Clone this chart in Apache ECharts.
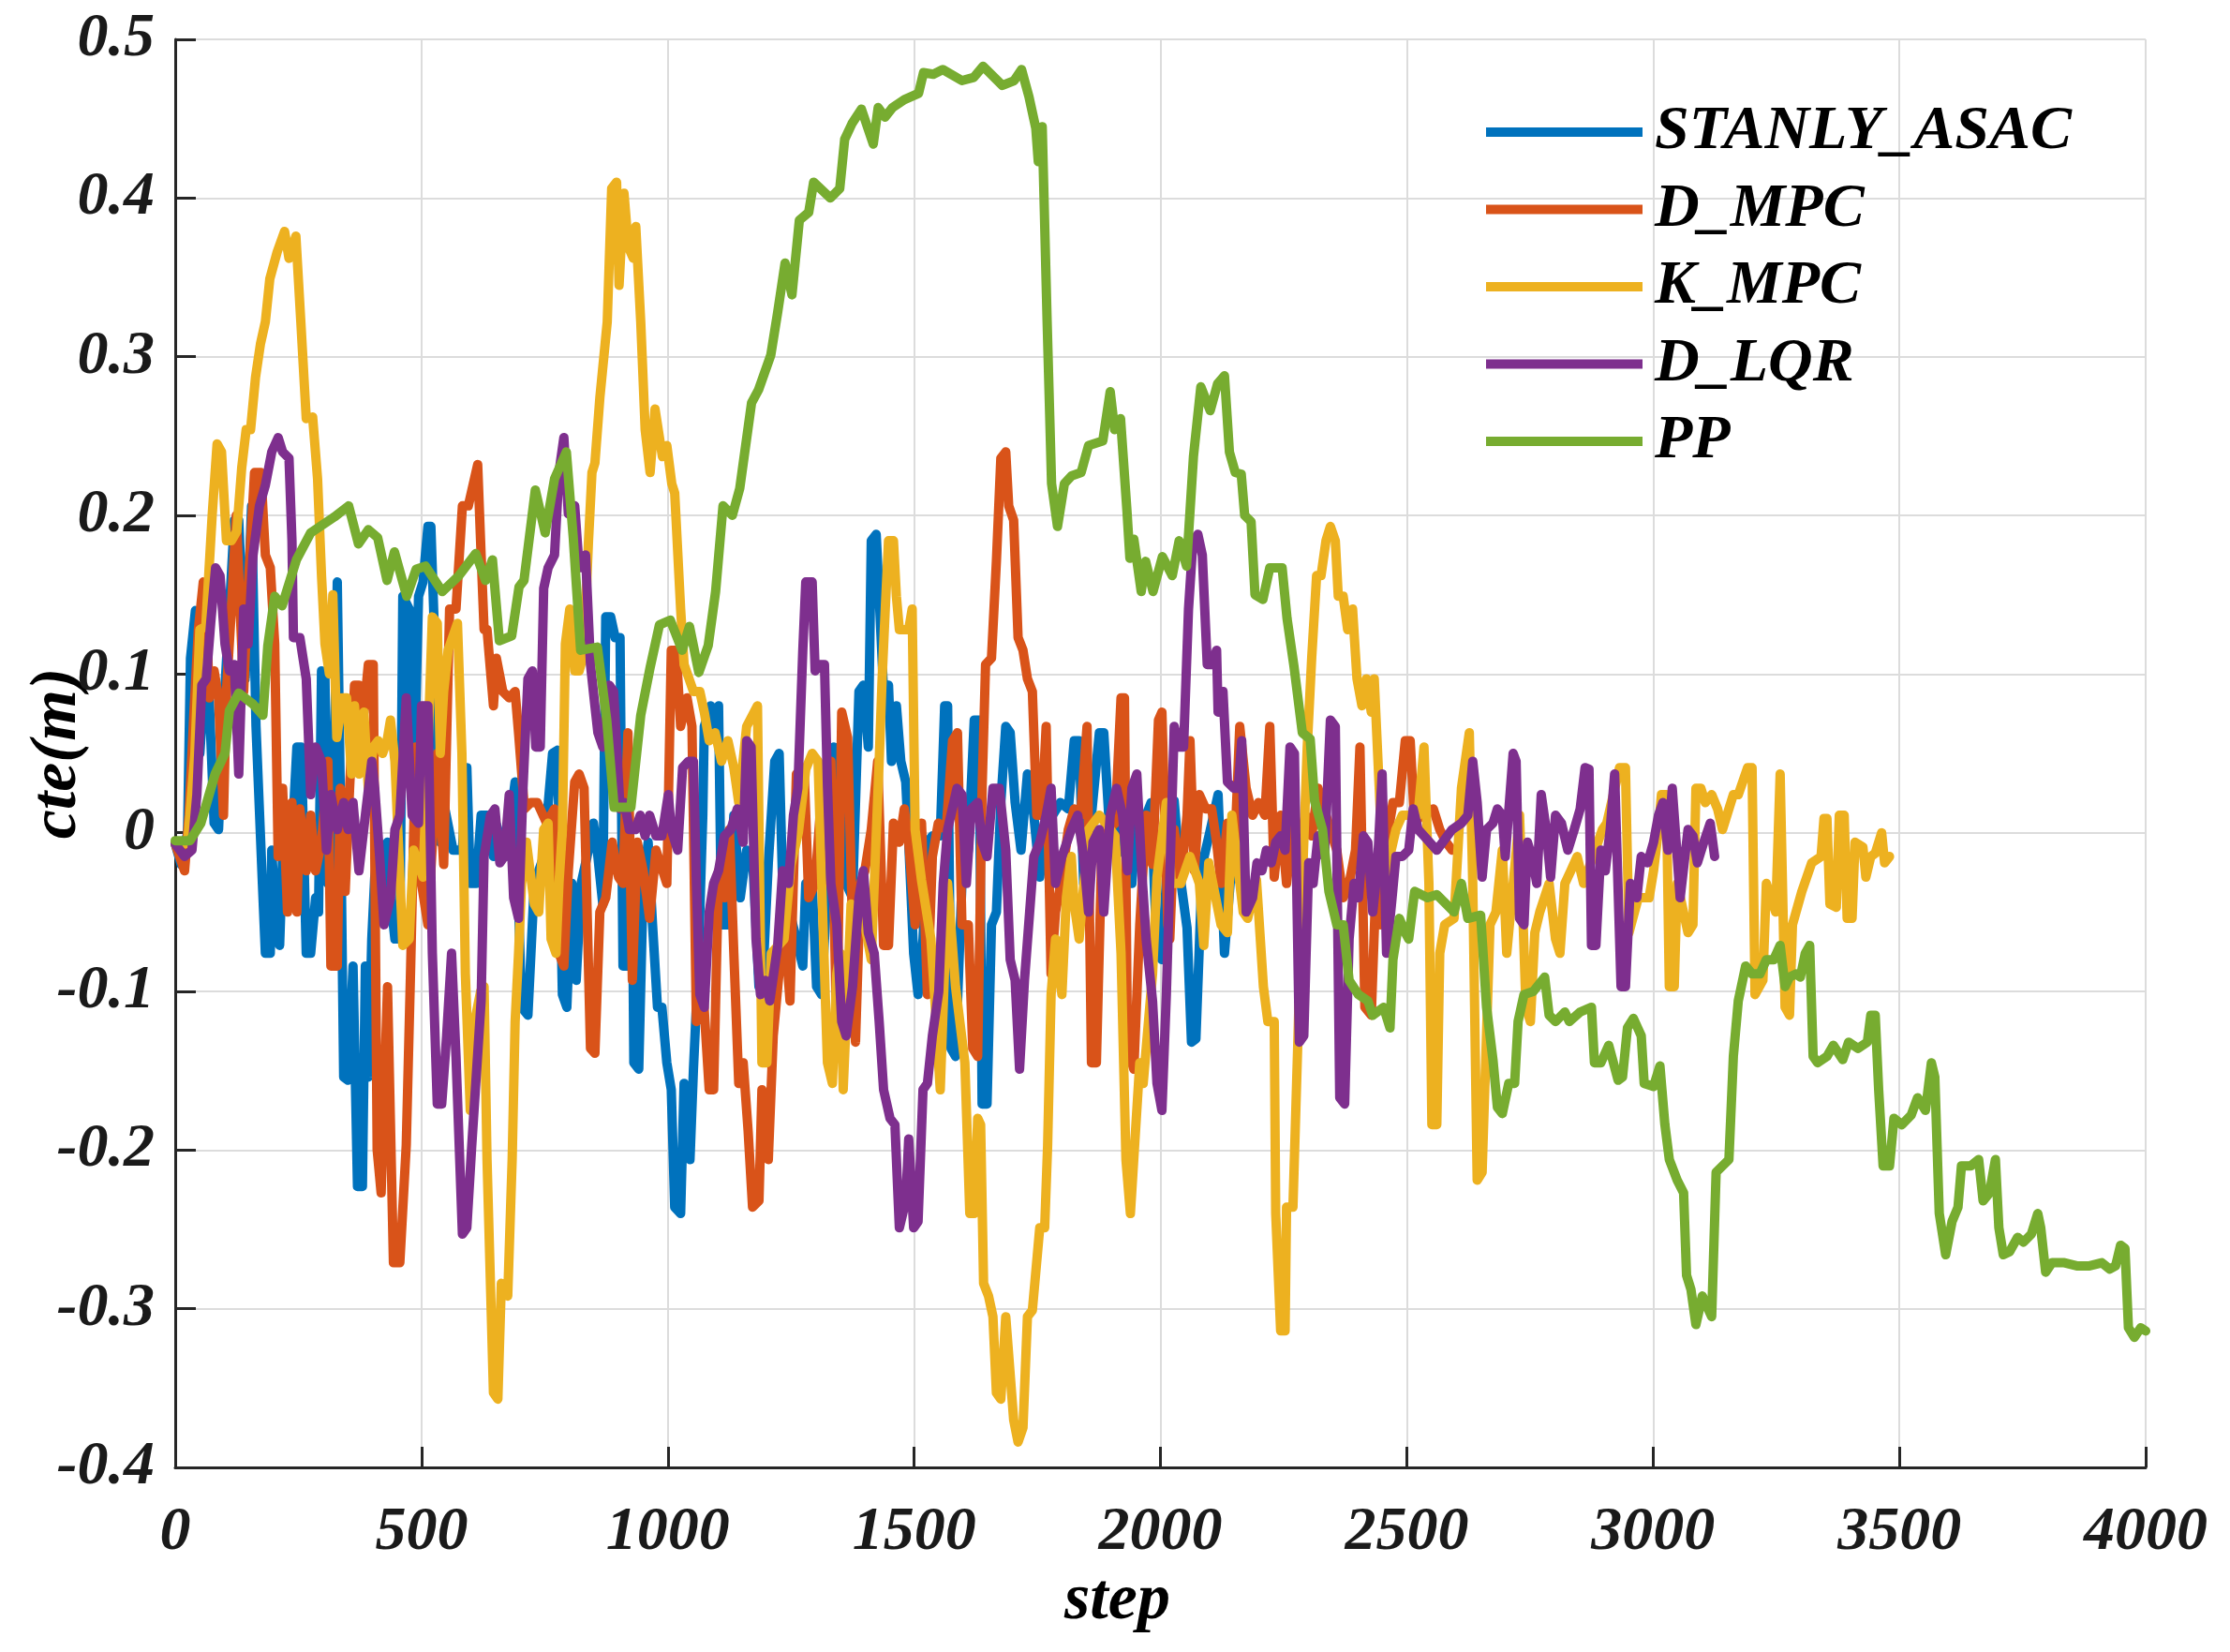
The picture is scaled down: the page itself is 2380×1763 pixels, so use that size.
<!DOCTYPE html>
<html>
<head>
<meta charset="utf-8">
<script src="https://cdn.jsdelivr.net/npm/echarts@6/dist/echarts.min.js"></script>
<style>
html,body{margin:0;padding:0;background:#fff;}
#chart{width:2380px;height:1763px;}
</style>
</head>
<body>
<div id="chart"></div>
<script>
const seriesNames = ['STANLY_ASAC','D_MPC','K_MPC','D_LQR','PP'];
const seriesColors = ['#0072BD','#D95319','#EDB120','#7E2F8E','#77AC30'];
const xTicks = [0,500,1000,1500,2000,2500,3000,3500,4000];
const yTicks = [-0.4,-0.3,-0.2,-0.1,0,0.1,0.2,0.3,0.4,0.5];

const stanlyAsac = [[0,-0.007],[12,-0.02],[25,0.0],[31,0.11],[41,0.14],[50,0.05],[60,0.097],[69,0.085],[79,0.006],[88,0.002],[98,0.076],[110,0.14],[120,0.197],[129,0.197],[142,0.097],[155,0.206],[164,0.067],[177,-0.032],[183,-0.076],[193,-0.076],[196,-0.011],[206,-0.067],[212,-0.071],[218,-0.015],[228,-0.024],[237,-0.006],[247,0.054],[256,0.054],[266,-0.076],[275,-0.076],[285,-0.041],[291,-0.05],[297,0.102],[304,0.097],[310,-0.032],[320,-0.011],[329,0.158],[335,0.028],[342,-0.154],[351,-0.156],[361,-0.084],[370,-0.223],[380,-0.223],[386,-0.084],[392,-0.154],[399,-0.067],[405,-0.028],[412,-0.011],[424,-0.041],[431,-0.006],[437,-0.041],[446,-0.067],[456,-0.067],[462,0.149],[475,0.141],[484,0.024],[494,0.149],[503,0.158],[513,0.193],[519,0.193],[526,0.128],[538,-0.006],[545,0.019],[564,-0.011],[583,-0.011],[592,0.041],[599,-0.032],[611,-0.032],[621,0.011],[633,0.011],[646,-0.015],[652,0.005],[671,-0.015],[690,0.032],[703,-0.11],[716,-0.115],[729,-0.032],[748,-0.015],[766,0.05],[776,0.052],[786,-0.102],[795,-0.11],[805,-0.032],[814,-0.093],[824,-0.032],[836,-0.015],[849,0.006],[858,-0.015],[868,-0.045],[874,0.136],[884,0.136],[893,0.123],[903,0.123],[909,-0.084],[919,-0.084],[928,-0.028],[931,-0.145],[941,-0.149],[950,-0.032],[960,-0.006],[969,-0.058],[979,-0.11],[988,-0.11],[998,-0.145],[1007,-0.162],[1014,-0.236],[1026,-0.24],[1033,-0.158],[1045,-0.206],[1052,-0.149],[1061,-0.089],[1071,0.011],[1074,0.067],[1087,0.08],[1096,0.067],[1103,0.08],[1109,-0.058],[1122,-0.058],[1134,0.011],[1147,-0.041],[1160,-0.011],[1172,-0.015],[1185,-0.097],[1194,-0.084],[1204,-0.019],[1217,0.045],[1226,0.05],[1233,-0.032],[1261,-0.067],[1274,-0.084],[1280,-0.032],[1293,-0.032],[1302,-0.097],[1312,-0.102],[1324,-0.032],[1337,0.054],[1350,0.045],[1362,-0.032],[1375,-0.041],[1388,0.089],[1397,0.093],[1407,0.054],[1413,0.184],[1423,0.188],[1429,0.149],[1438,0.089],[1448,0.093],[1454,0.045],[1464,0.08],[1473,0.045],[1483,0.032],[1489,-0.006],[1499,-0.076],[1508,-0.102],[1518,-0.067],[1527,-0.006],[1537,-0.002],[1553,-0.002],[1562,0.08],[1568,0.08],[1575,-0.136],[1584,-0.141],[1597,-0.032],[1610,-0.011],[1622,0.071],[1632,0.071],[1638,-0.171],[1648,-0.171],[1657,-0.058],[1667,-0.05],[1676,0.019],[1686,0.067],[1695,0.063],[1705,0.019],[1717,-0.011],[1730,0.037],[1743,0.011],[1755,-0.028],[1768,0.011],[1781,0.011],[1797,0.019],[1813,0.015],[1825,0.058],[1835,0.058],[1844,-0.032],[1860,0.011],[1876,0.063],[1885,0.063],[1895,0.011],[1908,0.011],[1920,-0.011],[1933,-0.015],[1942,-0.032],[1952,0.011],[1971,0.011],[1981,0.019],[1993,-0.076],[2003,-0.08],[2012,-0.03],[2028,0.02],[2041,-0.03],[2054,-0.06],[2063,-0.132],[2072,-0.13],[2085,-0.02],[2100,0.0],[2117,0.024],[2130,-0.076],[2142,-0.03],[2155,-0.028]];

const dMpc = [[0,-0.007],[19,-0.024],[28,0.011],[38,0.076],[47,0.128],[57,0.158],[63,0.141],[69,0.085],[79,0.102],[88,0.085],[98,0.011],[104,0.089],[114,0.141],[124,0.2],[133,0.132],[139,0.089],[148,0.154],[161,0.227],[174,0.227],[183,0.175],[193,0.167],[202,0.119],[209,-0.015],[218,0.028],[228,-0.05],[237,0.019],[247,-0.05],[253,0.015],[266,-0.024],[275,0.011],[285,-0.024],[297,-0.006],[310,0.045],[316,-0.084],[329,-0.084],[335,0.028],[345,-0.037],[354,0.028],[364,0.093],[373,0.093],[383,0.076],[392,0.106],[402,0.106],[410,-0.2],[418,-0.227],[431,-0.097],[443,-0.271],[456,-0.271],[469,-0.197],[478,-0.084],[488,0.054],[500,-0.032],[513,-0.058],[532,0.05],[545,-0.02],[557,0.141],[570,0.141],[583,0.206],[595,0.206],[614,0.232],[621,0.175],[627,0.128],[633,0.128],[646,0.08],[652,0.11],[665,0.089],[678,0.085],[690,0.089],[697,0.063],[709,0.015],[722,0.019],[735,0.019],[754,0.006],[770,0.015],[779,-0.076],[789,-0.084],[798,-0.024],[811,0.032],[820,0.037],[830,0.028],[843,-0.136],[852,-0.139],[862,-0.05],[874,-0.041],[887,-0.006],[900,-0.028],[909,-0.032],[919,0.063],[928,-0.093],[938,-0.006],[950,-0.024],[963,-0.054],[976,-0.011],[998,-0.032],[1007,0.115],[1017,0.115],[1026,0.067],[1039,0.085],[1049,0.067],[1058,-0.119],[1071,-0.097],[1084,-0.162],[1093,-0.162],[1103,-0.024],[1115,-0.041],[1125,0.002],[1134,-0.076],[1144,-0.158],[1153,-0.145],[1163,-0.188],[1172,-0.236],[1185,-0.232],[1191,-0.162],[1204,-0.206],[1214,-0.128],[1236,-0.054],[1248,-0.106],[1261,0.037],[1277,0.037],[1286,-0.041],[1299,-0.032],[1312,0.024],[1324,0.028],[1331,0.045],[1343,-0.128],[1353,0.076],[1365,0.06],[1381,-0.132],[1391,-0.032],[1400,-0.024],[1413,0.002],[1426,0.045],[1438,-0.071],[1448,-0.071],[1458,0.006],[1470,-0.006],[1480,0.015],[1489,-0.006],[1502,-0.058],[1515,0.006],[1527,-0.102],[1537,-0.015],[1549,0.006],[1565,0.002],[1578,0.058],[1588,0.063],[1597,-0.058],[1610,-0.058],[1619,-0.136],[1629,-0.141],[1638,0.028],[1645,0.106],[1657,0.11],[1667,0.171],[1676,0.236],[1686,0.24],[1692,0.206],[1702,0.197],[1711,0.123],[1721,0.115],[1730,0.097],[1740,0.089],[1749,0.011],[1759,0.011],[1768,0.067],[1778,-0.089],[1787,-0.05],[1800,-0.028],[1813,0.002],[1825,0.015],[1838,0.011],[1851,0.067],[1860,-0.145],[1870,-0.145],[1882,0.002],[1895,0.002],[1908,0.006],[1920,0.085],[1927,0.085],[1933,-0.136],[1946,-0.149],[1958,-0.058],[1971,0.011],[1984,-0.02],[1996,0.071],[2003,0.076],[2015,-0.058],[2019,-0.067],[2028,0.002],[2041,-0.032],[2054,0.011],[2060,0.058],[2069,-0.024],[2079,0.024],[2092,0.015],[2104,0.015],[2114,-0.006],[2123,-0.032],[2136,0.006],[2149,-0.024],[2161,0.067],[2174,0.028],[2187,0.011],[2199,0.019],[2212,0.011],[2222,0.067],[2231,-0.028],[2244,0.011],[2256,-0.032],[2269,0.006],[2282,-0.006],[2295,0.011],[2307,-0.002],[2320,0.028],[2332,0.015],[2345,0.002],[2358,-0.011],[2371,-0.041],[2383,-0.032],[2396,-0.011],[2405,0.054],[2415,-0.11],[2428,-0.115],[2437,-0.037],[2447,-0.058],[2459,-0.006],[2472,0.019],[2485,0.019],[2497,0.058],[2507,0.058],[2516,0.006],[2529,0.011],[2554,0.015],[2567,0.002],[2580,-0.006],[2592,-0.011]];

const kMpc = [[0,-0.007],[25,-0.007],[40,0.05],[50,0.128],[62,0.13],[75,0.2],[85,0.245],[94,0.24],[104,0.184],[114,0.184],[125,0.19],[135,0.23],[144,0.254],[153,0.254],[163,0.287],[173,0.308],[183,0.322],[192,0.349],[207,0.366],[222,0.379],[231,0.362],[245,0.376],[255,0.322],[266,0.261],[279,0.262],[289,0.223],[297,0.162],[304,0.119],[313,0.1],[320,0.15],[328,0.06],[339,0.085],[348,0.085],[358,0.037],[364,0.08],[373,0.037],[383,0.076],[392,0.028],[402,0.054],[412,0.058],[421,0.05],[430,0.058],[437,0.071],[446,0.045],[453,-0.006],[462,-0.071],[475,-0.067],[484,-0.011],[503,-0.028],[513,0.054],[522,0.136],[532,0.132],[538,0.05],[545,0.089],[554,0.115],[573,0.132],[582,0.05],[589,-0.089],[599,-0.175],[608,-0.119],[620,-0.1],[627,-0.097],[633,-0.206],[646,-0.353],[655,-0.357],[662,-0.284],[675,-0.292],[684,-0.206],[690,-0.119],[697,-0.076],[703,-0.032],[713,-0.006],[729,-0.045],[738,-0.05],[748,0.002],[757,0.006],[763,-0.067],[773,-0.076],[779,-0.032],[786,0.002],[792,0.119],[801,0.141],[811,0.102],[820,0.102],[827,0.11],[833,0.141],[839,0.184],[846,0.227],[852,0.233],[862,0.274],[877,0.322],[886,0.406],[896,0.41],[901,0.345],[911,0.403],[920,0.369],[930,0.362],[935,0.382],[945,0.322],[954,0.254],[964,0.227],[974,0.267],[989,0.237],[998,0.244],[1008,0.22],[1014,0.214],[1026,0.141],[1033,0.106],[1052,0.089],[1065,0.089],[1074,0.076],[1084,0.058],[1096,0.063],[1109,0.045],[1122,0.058],[1134,0.041],[1144,0.019],[1160,0.067],[1182,0.08],[1191,-0.145],[1201,-0.145],[1210,-0.076],[1236,-0.067],[1250,-0.02],[1265,0.0],[1280,0.04],[1293,0.05],[1305,0.045],[1315,-0.058],[1324,-0.145],[1334,-0.158],[1343,-0.089],[1350,-0.076],[1356,-0.162],[1372,-0.045],[1385,-0.05],[1400,-0.058],[1413,-0.08],[1429,0.045],[1435,0.097],[1442,0.145],[1448,0.184],[1458,0.184],[1464,0.149],[1470,0.128],[1489,0.128],[1496,0.141],[1502,0.002],[1515,-0.03],[1534,-0.067],[1543,-0.11],[1553,-0.162],[1568,-0.032],[1584,-0.097],[1603,-0.145],[1613,-0.24],[1622,-0.24],[1629,-0.18],[1635,-0.184],[1641,-0.284],[1651,-0.292],[1660,-0.305],[1667,-0.353],[1676,-0.357],[1686,-0.305],[1702,-0.37],[1711,-0.384],[1721,-0.375],[1730,-0.305],[1740,-0.301],[1755,-0.249],[1765,-0.249],[1771,-0.197],[1778,-0.102],[1787,-0.067],[1800,-0.102],[1809,-0.041],[1819,-0.015],[1825,-0.045],[1835,-0.067],[1854,0.002],[1876,0.011],[1908,-0.002],[1920,-0.076],[1930,-0.206],[1939,-0.24],[1958,-0.145],[1965,-0.158],[1984,-0.089],[1993,-0.028],[2012,0.019],[2022,-0.032],[2041,-0.032],[2060,-0.015],[2079,-0.032],[2088,-0.071],[2098,-0.019],[2123,-0.058],[2136,-0.063],[2145,0.011],[2168,-0.05],[2177,-0.054],[2195,-0.03],[2209,-0.097],[2218,-0.119],[2231,-0.119],[2234,-0.24],[2244,-0.314],[2253,-0.314],[2256,-0.236],[2269,-0.236],[2280,-0.12],[2288,-0.032],[2298,0.054],[2307,0.11],[2317,0.162],[2326,0.162],[2336,0.184],[2345,0.193],[2355,0.184],[2361,0.149],[2371,0.149],[2380,0.128],[2390,0.141],[2399,0.097],[2409,0.08],[2418,0.097],[2428,0.076],[2434,0.097],[2453,-0.032],[2478,0.002],[2491,0.011],[2523,0.011],[2535,0.054],[2545,-0.032],[2551,-0.184],[2561,-0.184],[2567,-0.076],[2577,-0.058],[2596,-0.054],[2611,0.028],[2627,0.063],[2634,-0.032],[2643,-0.219],[2653,-0.214],[2669,-0.058],[2681,-0.05],[2694,-0.011],[2703,-0.076],[2729,0.011],[2742,-0.11],[2751,-0.119],[2760,-0.063],[2770,-0.05],[2789,-0.032],[2802,-0.067],[2811,-0.076],[2821,-0.032],[2833,-0.024],[2846,-0.015],[2859,-0.032],[2897,0.002],[2906,0.006],[2932,0.041],[2944,0.041],[2951,-0.063],[2970,-0.041],[2992,-0.041],[3001,-0.024],[3011,0.002],[3017,0.024],[3027,0.024],[3033,-0.097],[3043,-0.097],[3049,-0.032],[3071,-0.063],[3081,-0.058],[3087,0.028],[3097,0.028],[3106,0.019],[3119,0.024],[3131,0.015],[3141,0.002],[3163,0.024],[3173,0.024],[3192,0.041],[3201,0.041],[3207,-0.102],[3223,-0.093],[3230,-0.032],[3249,-0.05],[3258,0.037],[3268,-0.11],[3277,-0.115],[3283,-0.058],[3302,-0.037],[3322,-0.019],[3341,-0.015],[3347,0.009],[3353,0.009],[3359,-0.045],[3372,-0.047],[3378,0.011],[3388,0.011],[3394,-0.054],[3404,-0.054],[3410,-0.006],[3426,-0.009],[3432,-0.028],[3442,-0.015],[3451,-0.013],[3464,0.0],[3470,-0.019],[3480,-0.015]];

const dLqr = [[0,-0.007],[19,-0.015],[34,-0.011],[44,0.024],[54,0.093],[63,0.097],[72,0.132],[82,0.167],[91,0.162],[101,0.119],[110,0.102],[120,0.106],[129,0.037],[139,0.141],[148,0.119],[158,0.175],[171,0.206],[183,0.219],[196,0.24],[209,0.249],[218,0.24],[231,0.236],[237,0.184],[240,0.123],[253,0.123],[266,0.097],[275,0.024],[285,0.054],[297,0.045],[307,-0.011],[316,0.024],[329,0.002],[342,0.019],[351,0.002],[361,0.019],[373,-0.024],[386,0.011],[399,0.045],[405,0.028],[415,-0.015],[424,-0.058],[437,-0.041],[446,0.002],[456,0.011],[469,0.085],[481,0.011],[494,0.006],[500,0.08],[513,0.08],[522,-0.076],[532,-0.171],[541,-0.171],[551,-0.128],[561,-0.076],[570,-0.141],[583,-0.253],[592,-0.249],[602,-0.197],[621,-0.106],[627,-0.015],[640,0.011],[649,0.015],[659,-0.019],[668,-0.015],[678,0.024],[687,-0.041],[697,-0.054],[706,0.028],[716,0.097],[725,0.102],[732,0.054],[741,0.054],[748,0.154],[757,0.167],[770,0.175],[779,0.227],[789,0.249],[798,0.201],[811,0.206],[820,0.167],[833,0.175],[843,0.106],[852,0.08],[858,0.063],[868,0.054],[881,0.093],[890,0.089],[903,0.015],[912,0.019],[922,0.002],[934,0.002],[944,0.011],[954,-0.002],[963,0.011],[976,-0.002],[988,-0.002],[1001,0.024],[1007,0.002],[1020,-0.011],[1030,0.041],[1042,0.045],[1052,0.045],[1058,-0.032],[1065,-0.102],[1074,-0.11],[1084,-0.05],[1093,-0.032],[1103,-0.024],[1115,-0.002],[1128,0.002],[1141,0.015],[1153,-0.006],[1160,0.058],[1169,0.054],[1179,-0.067],[1188,-0.102],[1198,-0.093],[1207,-0.106],[1223,-0.071],[1233,-0.024],[1245,-0.032],[1255,0.011],[1264,0.028],[1274,0.115],[1280,0.158],[1293,0.158],[1299,0.102],[1309,0.106],[1318,0.106],[1324,0.03],[1331,-0.032],[1343,-0.058],[1353,-0.119],[1362,-0.128],[1375,-0.097],[1388,-0.041],[1397,-0.024],[1407,-0.063],[1419,-0.076],[1429,-0.119],[1438,-0.162],[1451,-0.18],[1461,-0.184],[1470,-0.249],[1483,-0.232],[1489,-0.193],[1499,-0.249],[1508,-0.245],[1518,-0.162],[1527,-0.158],[1537,-0.128],[1550,-0.1],[1559,-0.032],[1568,0.002],[1587,0.028],[1597,0.024],[1606,-0.032],[1616,0.015],[1629,0.019],[1638,-0.006],[1648,-0.015],[1660,0.028],[1673,0.028],[1686,-0.011],[1695,-0.08],[1705,-0.093],[1714,-0.149],[1724,-0.093],[1743,-0.015],[1755,-0.006],[1768,0.011],[1778,0.028],[1787,-0.032],[1800,-0.015],[1819,0.002],[1832,0.011],[1844,-0.015],[1854,-0.05],[1863,-0.006],[1876,0.002],[1885,-0.05],[1898,0.011],[1911,0.028],[1923,0.011],[1933,-0.024],[1942,0.028],[1952,0.037],[1962,-0.024],[1971,-0.067],[1984,-0.106],[1993,-0.158],[2003,-0.175],[2012,-0.102],[2028,0.067],[2038,0.054],[2047,0.054],[2057,0.141],[2066,0.184],[2076,0.188],[2085,0.175],[2095,0.106],[2104,0.106],[2114,0.115],[2117,0.076],[2127,0.089],[2136,0.032],[2149,0.028],[2158,0.028],[2165,0.058],[2174,-0.05],[2187,-0.041],[2196,-0.019],[2206,-0.024],[2215,-0.011],[2225,-0.019],[2234,-0.006],[2244,-0.002],[2253,-0.011],[2263,0.054],[2272,0.05],[2282,-0.132],[2291,-0.128],[2301,-0.019],[2310,-0.032],[2320,-0.002],[2333,-0.015],[2345,0.071],[2355,0.067],[2364,-0.167],[2374,-0.171],[2383,-0.067],[2393,-0.032],[2402,-0.041],[2412,-0.002],[2421,-0.006],[2431,-0.05],[2440,-0.024],[2450,0.037],[2459,-0.076],[2469,-0.045],[2478,-0.015],[2491,-0.015],[2504,-0.011],[2513,0.015],[2523,0.002],[2535,-0.002],[2561,-0.011],[2573,-0.006],[2592,0.002],[2611,0.006],[2624,0.011],[2634,0.045],[2643,0.019],[2653,-0.028],[2662,0.002],[2675,0.006],[2684,0.015],[2694,0.011],[2700,-0.015],[2716,0.05],[2722,0.045],[2729,-0.054],[2738,-0.058],[2745,-0.006],[2754,-0.015],[2764,-0.032],[2773,0.024],[2783,0.002],[2792,-0.028],[2802,0.011],[2814,0.006],[2827,-0.011],[2840,0.002],[2852,0.015],[2862,0.041],[2870,0.04],[2875,-0.071],[2884,-0.071],[2894,-0.011],[2903,-0.024],[2913,0.002],[2922,0.037],[2935,-0.097],[2944,-0.097],[2954,-0.032],[2967,-0.041],[2976,-0.015],[2989,-0.019],[3001,-0.006],[3011,0.011],[3020,0.019],[3030,-0.011],[3039,0.028],[3055,-0.041],[3071,0.002],[3081,-0.002],[3090,-0.019],[3103,-0.006],[3116,0.006],[3125,-0.015]];

const pp = [[0,-0.005],[30,-0.005],[52,0.006],[81,0.037],[101,0.05],[110,0.077],[129,0.088],[158,0.081],[178,0.074],[188,0.118],[202,0.149],[217,0.143],[246,0.172],[275,0.189],[323,0.199],[352,0.206],[372,0.182],[392,0.191],[411,0.186],[430,0.159],[445,0.177],[470,0.149],[489,0.166],[508,0.168],[542,0.152],[576,0.162],[610,0.176],[630,0.159],[644,0.172],[658,0.121],[683,0.124],[698,0.155],[708,0.159],[731,0.216],[751,0.189],[770,0.223],[794,0.24],[808,0.186],[823,0.115],[857,0.117],[876,0.071],[891,0.016],[925,0.016],[945,0.074],[964,0.104],[983,0.131],[1005,0.134],[1029,0.115],[1044,0.13],[1063,0.101],[1082,0.118],[1097,0.152],[1112,0.206],[1131,0.2],[1146,0.217],[1170,0.271],[1184,0.279],[1209,0.301],[1223,0.328],[1238,0.359],[1252,0.339],[1267,0.386],[1286,0.391],[1296,0.41],[1330,0.4],[1349,0.406],[1359,0.437],[1374,0.447],[1393,0.456],[1417,0.434],[1427,0.457],[1441,0.451],[1456,0.457],[1480,0.462],[1509,0.466],[1519,0.479],[1539,0.478],[1558,0.481],[1597,0.474],[1621,0.476],[1640,0.483],[1679,0.471],[1703,0.474],[1718,0.481],[1733,0.464],[1747,0.444],[1752,0.423],[1760,0.445],[1770,0.322],[1779,0.22],[1791,0.193],[1805,0.22],[1820,0.225],[1839,0.227],[1854,0.244],[1883,0.247],[1898,0.278],[1907,0.254],[1919,0.261],[1932,0.203],[1938,0.173],[1946,0.185],[1961,0.152],[1970,0.171],[1985,0.152],[2004,0.174],[2024,0.162],[2038,0.184],[2053,0.168],[2067,0.237],[2082,0.281],[2101,0.266],[2116,0.283],[2130,0.288],[2140,0.24],[2152,0.227],[2164,0.226],[2171,0.2],[2184,0.196],[2192,0.15],[2208,0.147],[2222,0.167],[2247,0.167],[2257,0.135],[2271,0.105],[2288,0.063],[2304,0.059],[2313,0.02],[2329,0.002],[2342,-0.037],[2358,-0.058],[2371,-0.058],[2383,-0.093],[2402,-0.102],[2421,-0.106],[2431,-0.115],[2453,-0.11],[2466,-0.123],[2472,-0.08],[2485,-0.054],[2497,-0.063],[2504,-0.067],[2516,-0.037],[2542,-0.041],[2561,-0.039],[2580,-0.045],[2596,-0.05],[2611,-0.032],[2624,-0.054],[2650,-0.052],[2662,-0.11],[2675,-0.143],[2684,-0.173],[2694,-0.177],[2707,-0.158],[2719,-0.158],[2726,-0.119],[2738,-0.102],[2757,-0.1],[2780,-0.091],[2789,-0.115],[2802,-0.119],[2821,-0.113],[2830,-0.119],[2852,-0.113],[2875,-0.11],[2881,-0.145],[2894,-0.145],[2910,-0.134],[2929,-0.156],[2938,-0.154],[2948,-0.123],[2960,-0.117],[2976,-0.128],[2982,-0.158],[3001,-0.16],[3014,-0.147],[3024,-0.184],[3033,-0.206],[3049,-0.219],[3062,-0.227],[3068,-0.279],[3077,-0.288],[3087,-0.31],[3100,-0.292],[3119,-0.305],[3128,-0.214],[3141,-0.21],[3154,-0.206],[3163,-0.141],[3173,-0.106],[3188,-0.084],[3201,-0.089],[3217,-0.089],[3230,-0.08],[3245,-0.08],[3258,-0.071],[3268,-0.097],[3277,-0.091],[3290,-0.089],[3299,-0.091],[3309,-0.076],[3318,-0.071],[3325,-0.141],[3334,-0.145],[3353,-0.141],[3366,-0.134],[3385,-0.143],[3397,-0.132],[3416,-0.136],[3435,-0.132],[3442,-0.115],[3451,-0.115],[3458,-0.162],[3467,-0.21],[3480,-0.21],[3489,-0.18],[3505,-0.184],[3524,-0.178],[3537,-0.167],[3553,-0.175],[3565,-0.145],[3572,-0.154],[3581,-0.24],[3594,-0.266],[3607,-0.245],[3619,-0.236],[3626,-0.21],[3645,-0.21],[3661,-0.206],[3670,-0.232],[3683,-0.227],[3695,-0.206],[3702,-0.249],[3711,-0.266],[3724,-0.264],[3740,-0.255],[3752,-0.258],[3768,-0.253],[3781,-0.24],[3787,-0.249],[3797,-0.277],[3810,-0.271],[3835,-0.271],[3860,-0.273],[3886,-0.273],[3911,-0.271],[3927,-0.275],[3939,-0.273],[3949,-0.26],[3958,-0.262],[3965,-0.312],[3977,-0.318],[3990,-0.312],[4000,-0.314]];

const allData = [stanlyAsac, dMpc, kMpc, dLqr, pp];
const FONT = 'Liberation Serif';
const txt = {fontFamily: FONT, fontWeight: 'bold', fontStyle: 'italic', color: '#1a1a1a'};

const chart = echarts.init(document.getElementById('chart'), null, {renderer: 'canvas'});
chart.setOption({
  animation: false,
  backgroundColor: '#ffffff',
  grid: {left: 187, right: 90, top: 42, bottom: 197, containLabel: false, outerBoundsMode: 'none'},
  legend: {
    orient: 'vertical',
    left: 1586,
    top: 108,
    padding: 0,
    itemWidth: 167,
    itemHeight: 10,
    itemGap: 16.5,
    icon: 'rect',
    data: seriesNames,
    textStyle: Object.assign({}, txt, {fontSize: 66, lineHeight: 64, color: '#000', padding: [0, 0, 0, 8]})
  },
  xAxis: {
    type: 'value',
    min: xTicks[0],
    max: xTicks[xTicks.length - 1],
    interval: xTicks[1] - xTicks[0],
    name: 'step',
    nameLocation: 'middle',
    nameGap: 96,
    nameTextStyle: Object.assign({}, txt, {fontSize: 70, color: '#000', padding: [0, 92, 0, 0]}),
    axisLine: {show: true, onZero: false, lineStyle: {color: '#262626', width: 3}},
    axisTick: {show: true, inside: true, length: 22, lineStyle: {color: '#262626', width: 3}},
    axisLabel: Object.assign({}, txt, {fontSize: 66, margin: 37, formatter: v => String(v)}),
    splitLine: {show: true, lineStyle: {color: '#dcdcdc', width: 2}}
  },
  yAxis: {
    type: 'value',
    min: yTicks[0],
    max: yTicks[yTicks.length - 1],
    interval: 0.1,
    name: 'cte(m)',
    nameLocation: 'middle',
    nameGap: 90,
    nameMoveOverlap: false,
    nameTextStyle: Object.assign({}, txt, {fontSize: 70, color: '#000'}),
    axisLine: {show: true, onZero: false, lineStyle: {color: '#262626', width: 3}},
    axisTick: {show: true, inside: true, length: 22, lineStyle: {color: '#262626', width: 3}},
    axisLabel: Object.assign({}, txt, {fontSize: 66, margin: 22, formatter: v => String(Math.round(v * 10) / 10)}),
    splitLine: {show: true, lineStyle: {color: '#dcdcdc', width: 2}}
  },
  series: seriesNames.map((name, i) => ({
    name: name,
    type: 'line',
    data: allData[i],
    showSymbol: false,
    symbol: 'none',
    smooth: false,
    color: seriesColors[i],
    lineStyle: {color: seriesColors[i], width: 10, cap: 'round', join: 'round'},
    z: 2 + i
  }))
});
</script>
</body>
</html>
